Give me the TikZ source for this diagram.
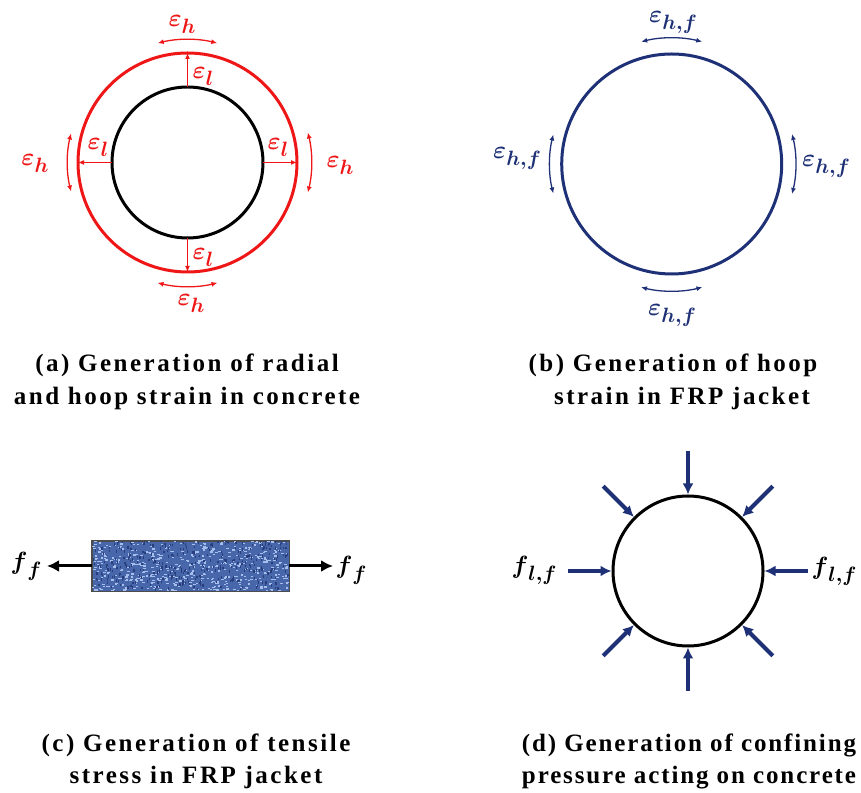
\documentclass[tikz,border=0pt]{standalone}
\usepackage{fontspec}
\setmainfont{Liberation Serif}
\newfontfamily\capfont[LetterSpace=10]{Liberation Serif}
\newfontfamily\capfontd[LetterSpace=7.5]{Liberation Serif}
\usetikzlibrary{arrows.meta}
\definecolor{hred}{RGB}{238,22,22}
\definecolor{navy}{RGB}{30,48,118}
\definecolor{jfill}{RGB}{72,102,170}
\definecolor{jlight}{RGB}{165,190,235}
\definecolor{jdark}{RGB}{40,62,125}
\newcommand\symlab[4]{{\fontsize{#3}{#3}\selectfont\boldmath$#1$}\raisebox{-7pt}{\fontsize{#4}{#4}\selectfont\boldmath$#2$}}
\begin{document}
\begin{tikzpicture}[x=1pt,y=1pt,
 captext/.style={font=\capfont\bfseries\fontsize{25}{25}\selectfont, anchor=base, inner sep=0},
 captextd/.style={font=\capfontd\bfseries\fontsize{25}{25}\selectfont, anchor=base, inner sep=0},
 lab/.style={inner sep=0},
 ring/.style={circle, draw, line width=3pt, inner sep=0, outer sep=0},
 radial/.style={hred, line width=1.3pt, -{Latex[length=6pt,width=5pt]}},
 hoop/.style={line width=1.3pt, {Latex[length=6pt,width=5pt]}-{Latex[length=6pt,width=5pt]}},
 press/.style={navy, line width=4pt, shorten >=1.5pt, -{Latex[length=11pt,width=11pt]}},
 pull/.style={black, line width=3pt, -{Latex[length=12pt,width=12pt]}}
]
\useasboundingbox (0,0) rectangle (861,792);

% ---------- panel (a)
\coordinate (cA) at (187.5,629.5);
\node[ring, hred, minimum size=219pt] (outA) at (cA) {};
\node[ring, black, minimum size=151pt] (inA) at (cA) {};
\draw[radial] (inA.north) -- (outA.north);
\draw[radial] (inA.west) -- (outA.west);
\draw[radial] (inA.east) -- (outA.east);
\draw[radial] (inA.south) -- (outA.south);
\draw[hoop, hred] ([shift={(76:123)}]cA) arc[start angle=76, end angle=104, radius=123];
\draw[hoop, hred] ([shift={(166:120)}]cA) arc[start angle=166, end angle=194, radius=120];
\draw[hoop, hred] ([shift={(-14:124)}]cA) arc[start angle=-14, end angle=14, radius=124];
\draw[hoop, hred] ([shift={(256:124)}]cA) arc[start angle=256, end angle=284, radius=124];
\node[lab, hred] (ehT) at (182,768) {\symlab{\varepsilon}{h}{30}{22}};
\node[lab, hred] (ehL) at (35,629) {\symlab{\varepsilon}{h}{30}{22}};
\node[lab, hred] (ehR) at (340,627) {\symlab{\varepsilon}{h}{30}{22}};
\node[lab, hred] (ehB) at (191,489) {\symlab{\varepsilon}{h}{30}{22}};
\node[lab, hred] (elT) at (203,716) {\symlab{\varepsilon}{l}{30}{22}};
\node[lab, hred] (elL) at (98,645) {\symlab{\varepsilon}{l}{30}{22}};
\node[lab, hred] (elR) at (278,645) {\symlab{\varepsilon}{l}{30}{22}};
\node[lab, hred] (elB) at (203,535) {\symlab{\varepsilon}{l}{30}{22}};

% ---------- panel (b)
\coordinate (cB) at (671.7,628);
\node[ring, navy, minimum size=220pt] (ringB) at (cB) {};
\draw[hoop, navy] ([shift={(76:126)}]cB) arc[start angle=76, end angle=104, radius=126];
\draw[hoop, navy] ([shift={(166:122)}]cB) arc[start angle=166, end angle=194, radius=122];
\draw[hoop, navy] ([shift={(-14:124)}]cB) arc[start angle=-14, end angle=14, radius=124];
\draw[hoop, navy] ([shift={(256:127)}]cB) arc[start angle=256, end angle=284, radius=127];
\node[lab, navy] (ehfT) at (673,770) {\symlab{\varepsilon}{h{,}f}{30}{22}};
\node[lab, navy] (ehfL) at (517,634) {\symlab{\varepsilon}{h{,}f}{30}{22}};
\node[lab, navy] (ehfR) at (826,626) {\symlab{\varepsilon}{h{,}f}{30}{22}};
\node[lab, navy] (ehfB) at (672,477) {\symlab{\varepsilon}{h{,}f}{30}{22}};

% ---------- panel (c)
\node[draw=black!70, line width=0.8pt, fill=jfill,
      minimum width=197pt, minimum height=50pt, inner sep=0] (jacket) at (190.4,226) {};
\begin{scope}
  \clip (jacket.south west) rectangle (jacket.north east);
  \pgfmathsetseed{11}
  \foreach \i in {1,...,520} {
    \pgfmathsetmacro{\px}{92+196*rnd}
    \pgfmathsetmacro{\py}{201+50*rnd}
    \fill[jlight] (\px,\py) rectangle ++(2.4,1.2);
  }
  \foreach \i in {1,...,360} {
    \pgfmathsetmacro{\px}{92+196*rnd}
    \pgfmathsetmacro{\py}{201+50*rnd}
    \fill[jdark] (\px,\py) rectangle ++(1.2,2.4);
  }
\end{scope}
\draw[black!70, line width=0.8pt] (jacket.south west) rectangle (jacket.north east);
\coordinate (pl) at (47,226);
\coordinate (pr) at (333,226);
\draw[pull] (jacket.west) -- (pl);
\draw[pull] (jacket.east) -- (pr);
\node[lab] (ffL) at (26,226) {\symlab{f}{f}{29}{22}};
\node[lab] (ffR) at (351,222) {\symlab{f}{f}{29}{22}};

% ---------- panel (d)
\coordinate (cD) at (688,221);
\node[ring, black, minimum size=150pt] (ringD) at (cD) {};
\foreach \a in {0,45,...,315} {
  \coordinate (s\a) at ([shift={(\a:120)}]cD);
  \draw[press] (s\a) -- (ringD.\a);
}
\node[lab] (flL) at (534,222) {\symlab{f}{l{,}f}{31}{22}};
\node[lab] (flR) at (834,221) {\symlab{f}{l{,}f}{31}{22}};

% ---------- captions
\node[captext] (capA1) at (187,420) {(a) Generation of radial};
\node[captext] (capA2) at (187,387) {and hoop strain in concrete};
\node[captext] (capB1) at (673,420) {(b) Generation of hoop};
\node[captext] (capB2) at (682,387) {strain in FRP jacket};
\node[captext] (capC1) at (196,41) {(c) Generation of tensile};
\node[captext] (capC2) at (196,9) {stress in FRP jacket};
\node[captextd] (capD1) at (689,41) {(d) Generation of confining};
\node[captextd] (capD2) at (689,9) {pressure acting on concrete};
\end{tikzpicture}
\end{document}
